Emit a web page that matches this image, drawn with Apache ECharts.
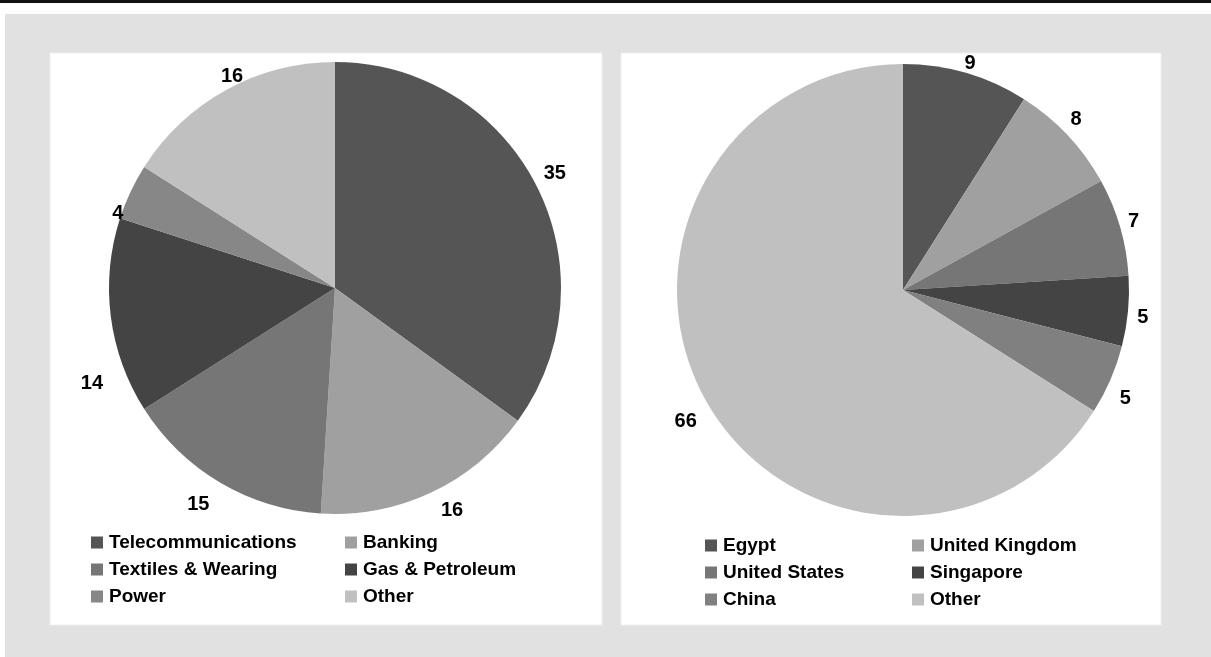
<!DOCTYPE html>
<html>
<head>
<meta charset="utf-8">
<title>Pie charts</title>
<script src="https://cdn.jsdelivr.net/npm/echarts@6/dist/echarts.min.js"></script>
<style>
  html, body { margin: 0; padding: 0; background: #ffffff; }
  #chart { width: 1211px; height: 657px; }
</style>
</head>
<body>
<div id="chart"></div>
<script>
// Sector shares (percent)
const sectorNames = ['Telecommunications', 'Banking', 'Textiles & Wearing', 'Gas & Petroleum', 'Power', 'Other'];
const sectorValues = [35, 16, 15, 14, 4, 16];
const sectorColors = ['#555555', '#a0a0a0', '#767676', '#444444', '#878787', '#c0c0c0'];

// Country shares (percent)
const countryNames = ['Egypt', 'United Kingdom', 'United States', 'Singapore', 'China', 'Other'];
const countryValues = [9, 8, 7, 5, 5, 66];
const countryColors = ['#555555', '#a0a0a0', '#767676', '#444444', '#808080', '#c0c0c0'];

const FONT = '"Liberation Sans", Arial, sans-serif';

const chart = echarts.init(document.getElementById('chart'), null, { renderer: 'canvas' });

function pieData(names, values, colors) {
  return names.map((n, i) => ({ name: n, value: values[i], itemStyle: { color: colors[i] } }));
}

function pieSeries(names, values, colors, center, r) {
  return {
    type: 'pie',
    center: center,
    radius: [0, r],
    startAngle: 90,
    clockwise: true,
    silent: true,
    animation: false,
    label: { show: false },
    labelLine: { show: false },
    itemStyle: { borderWidth: 0 },
    data: pieData(names, values, colors)
  };
}

// Transparent ring around each pie that carries the value labels
function labelRing(names, values, center, r, gap, nudges) {
  return {
    type: 'pie',
    center: center,
    radius: [r, r + 2 * gap],
    startAngle: 90,
    clockwise: true,
    silent: true,
    animation: false,
    itemStyle: { color: 'rgba(0,0,0,0)', borderWidth: 0 },
    label: {
      show: true,
      position: 'inside',
      formatter: '{c}',
      color: '#000',
      fontFamily: FONT,
      fontWeight: 'bold',
      fontSize: 20
    },
    labelLine: { show: false },
    labelLayout: function (p) {
      const n = nudges[p.dataIndex] || [0, 0];
      return { dx: n[0], dy: n[1] };
    },
    data: names.map((n, i) => ({ name: n, value: values[i] }))
  };
}

function legendColumn(names, left, top) {
  return {
    orient: 'vertical',
    left: left,
    top: top,
    icon: 'rect',
    itemWidth: 12,
    itemHeight: 12,
    itemGap: 8,
    selectedMode: false,
    padding: 0,
    textStyle: {
      color: '#000',
      fontFamily: FONT,
      fontWeight: 'bold',
      fontSize: 19,
      lineHeight: 19,
      padding: [0, 0, 0, 1]
    },
    data: names
  };
}

const leftCenter = [335, 288];
const rightCenter = [903, 290];

chart.setOption({
  animation: false,
  graphic: [
    { type: 'rect', shape: { x: 0, y: 0, width: 1211, height: 3 }, style: { fill: '#111111' }, silent: true },
    { type: 'rect', shape: { x: 5, y: 14, width: 1206, height: 643 }, style: { fill: '#e1e1e1' }, silent: true },
    { type: 'rect', shape: { x: 50, y: 53, width: 552, height: 572 }, style: { fill: '#ffffff', stroke: '#efefef', lineWidth: 1 }, silent: true },
    { type: 'rect', shape: { x: 621, y: 53, width: 540, height: 572 }, style: { fill: '#ffffff', stroke: '#efefef', lineWidth: 1 }, silent: true }
  ],
  legend: [
    legendColumn([sectorNames[0], sectorNames[2], sectorNames[4]], 91, 533),
    legendColumn([sectorNames[1], sectorNames[3], sectorNames[5]], 345, 533),
    legendColumn([countryNames[0], countryNames[2], countryNames[4]], 705, 536),
    legendColumn([countryNames[1], countryNames[3], countryNames[5]], 912, 536)
  ],
  series: [
    pieSeries(sectorNames, sectorValues, sectorColors, leftCenter, 226),
    pieSeries(countryNames, countryValues, countryColors, rightCenter, 226),
    labelRing(sectorNames, sectorValues, leftCenter, 226, 20,
      [[-2, -1], [11, -3], [-10, 2], [4, 64], [8, 32], [17, 7]]),
    labelRing(countryNames, countryValues, rightCenter, 226, 11,
      [[0, 4], [-2, -6], [0, -2], [1, 5], [2, 13], [-7, 16]])
  ]
});
</script>
</body>
</html>
